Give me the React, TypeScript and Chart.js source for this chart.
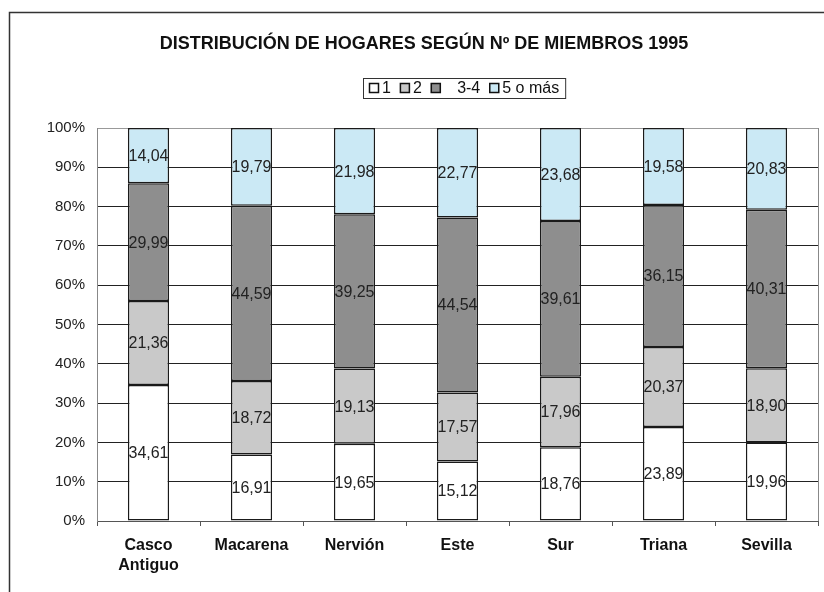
import React, { useEffect, useRef } from "react";
import { Chart, registerables } from "chart.js";

Chart.register(...registerables);

const TITLE = "DISTRIBUCIÓN DE HOGARES SEGÚN Nº DE MIEMBROS 1995";
const categories: (string | string[])[] = [["Casco", "Antiguo"], "Macarena", "Nervión", "Este", "Sur", "Triana", "Sevilla"];
const seriesNames = ["1", "2", "   3-4", "5 o más"];
const seriesColors = ["#ffffff", "#c9c9c9", "#8e8e8e", "#cbe9f5"];
const s1 = [34.61, 16.91, 19.65, 15.12, 18.76, 23.89, 19.96];
const s2 = [21.36, 18.72, 19.13, 17.57, 17.96, 20.37, 18.9];
const s34 = [29.99, 44.59, 39.25, 44.54, 39.61, 36.15, 40.31];
const s5 = [14.04, 19.79, 21.98, 22.77, 23.68, 19.58, 20.83];
const yTicks = [0, 10, 20, 30, 40, 50, 60, 70, 80, 90, 100];

const FONT = "Arial, 'Liberation Sans', sans-serif";

const fmt = (v: number) => v.toFixed(2).replace(".", ",");

const decorPlugin = {
  id: "decor",
  afterDraw(chart: any) {
    const ctx = chart.ctx as CanvasRenderingContext2D;
    const area = chart.chartArea;
    ctx.save();
    // outer frame
    ctx.strokeStyle = "#333";
    ctx.lineWidth = 1.5;
    ctx.beginPath();
    ctx.moveTo(9.5, 600);
    ctx.lineTo(9.5, 12.5);
    ctx.lineTo(830, 12.5);
    ctx.stroke();
    // right plot border
    ctx.strokeStyle = "#888";
    ctx.lineWidth = 1;
    ctx.beginPath();
    ctx.moveTo(Math.round(area.right) + 0.5, area.top);
    ctx.lineTo(Math.round(area.right) + 0.5, area.bottom);
    ctx.stroke();
    // title
    ctx.fillStyle = "#111";
    ctx.font = `bold 18px ${FONT}`;
    ctx.textAlign = "center";
    ctx.textBaseline = "middle";
    ctx.fillText(TITLE, 424, 44);
    // legend
    ctx.font = `16px ${FONT}`;
    ctx.textAlign = "left";
    const box = 10;
    const gap = 3;
    const itemGap = 9;
    let total = 0;
    const widths = seriesNames.map((n) => ctx.measureText(n).width);
    widths.forEach((w) => (total += box + gap + w));
    total += itemGap * (seriesNames.length - 1);
    const lx = 369;
    const ly = 88;
    ctx.strokeStyle = "#333";
    ctx.lineWidth = 1;
    ctx.strokeRect(363.5, 78.5, total + 12, 20);
    let x = lx;
    seriesNames.forEach((n, i) => {
      ctx.fillStyle = seriesColors[i];
      ctx.fillRect(x, ly - 5, box, box);
      ctx.strokeStyle = "#111";
      ctx.lineWidth = 1.5;
      ctx.strokeRect(x + 0.5, ly - 4.5, box - 1, box - 1);
      ctx.fillStyle = "#111";
      ctx.fillText(n, x + box + gap, ly + 1);
      x += box + gap + widths[i] + itemGap;
    });
    // data labels
    ctx.font = `16px ${FONT}`;
    ctx.textAlign = "center";
    ctx.fillStyle = "#222";
    chart.data.datasets.forEach((ds: any, di: number) => {
      const meta = chart.getDatasetMeta(di);
      meta.data.forEach((bar: any, i: number) => {
        const v = ds.data[i];
        const yc = (bar.y + bar.base) / 2;
        ctx.fillText(fmt(v), bar.x, yc + 1);
      });
    });
    ctx.restore();
  },
};

export default function App() {
  const ref = useRef<HTMLCanvasElement>(null);
  useEffect(() => {
    document.body.style.margin = "0";
    const seriesData = [s1, s2, s34, s5];
    const chart = new Chart(ref.current!, {
      type: "bar",
      data: {
        labels: categories,
        datasets: seriesData.map((d, i) => ({
          label: seriesNames[i],
          data: d,
          backgroundColor: seriesColors[i],
          borderColor: "#1a1a1a",
          borderWidth: 1.5,
          borderSkipped: false,
          categoryPercentage: 0.4,
          barPercentage: 1,
        })),
      },
      options: {
        animation: false,
        responsive: false,
        devicePixelRatio: 1,
        layout: { padding: { left: 0, right: 6, top: 128, bottom: 0 } },
        plugins: { legend: { display: false }, title: { display: false }, tooltip: { enabled: false } },
        scales: {
          x: {
            stacked: true,
            offset: true,
            grid: {
              display: true,
              drawOnChartArea: false,
              drawTicks: true,
              tickLength: 5,
              offset: true,
              color: "#555",
            },
            border: { display: true, color: "#555", width: 1 },
            ticks: {
              color: "#111",
              font: { family: FONT, size: 16, weight: "bold", lineHeight: 1.25 },
              padding: 10,
              maxRotation: 0,
              autoSkip: false,
            },
            afterFit(scale: any) {
              scale.height = 71;
            },
          },
          y: {
            stacked: true,
            min: 0,
            max: 100,
            afterBuildTicks(scale: any) {
              scale.ticks = yTicks.map((v) => ({ value: v }));
            },
            ticks: {
              color: "#222",
              font: { family: FONT, size: 15 },
              padding: 12,
              callback: (v: any) => `${v}%`,
            },
            grid: {
              color: (c: any) => (c.tick && c.tick.value === 100 ? "#999" : "#222"),
              lineWidth: 1,
              drawTicks: false,
            },
            border: { display: true, color: "#888", width: 1 },
            afterFit(scale: any) {
              scale.width = 97;
            },
          },
        },
      },
      plugins: [decorPlugin],
    });
    return () => chart.destroy();
  }, []);
  return (
    <div style={{ width: 824, height: 592 }}>
      <canvas ref={ref} width={824} height={592} style={{ display: "block" }} />
    </div>
  );
}
